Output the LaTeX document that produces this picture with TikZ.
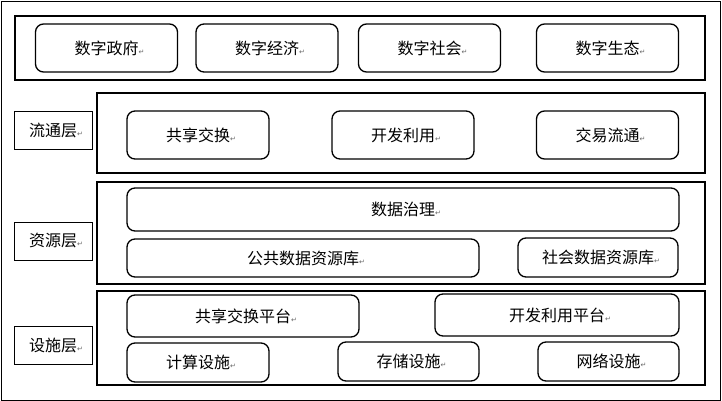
\documentclass[tikz,border=0pt]{standalone}
\usepackage{fontspec}
\newfontfamily\zhfont{Noto Sans CJK SC}
\newfontfamily\markfont{DejaVu Sans}
\usepackage{xcolor}
\colorlet{cMark}{black!60}
\usepackage{tikz}
\usetikzlibrary{positioning}
\newcommand{\parmark}{\rlap{\markfont\fontsize{7}{7}\selectfont\textcolor{cMark}{↵}}}
\tikzset{
	x = 1pt,
	y = -1pt,
	font = \zhfont\fontsize{16}{16}\selectfont,
	frame/.style={
		draw,
		line width=2.6pt,
		inner sep=0pt,
		minimum width=608pt
	},
	cell/.style={
		draw,
		rounded corners=8pt,
		line width=1.3pt,
		inner sep=0pt,
		minimum width=142pt,
		minimum height=39pt
	},
	tag/.style={
		draw,
		line width=.8pt,
		inner sep=0pt,
		minimum width=78pt,
		minimum height=38pt
	}
}

\begin{document}
\begin{tikzpicture}
		\useasboundingbox (0,0) rectangle (722,401);
		\draw[line width=.8pt] (1,1) rectangle (720,400);

		% application
		\node[frame, minimum width=690pt, minimum height=64pt] (app) at (360,48) {};
		\node[cell, minimum height=48pt] (gov) at (106.5,48) {数字政府\parmark};
		\node[cell, minimum height=48pt] (econ) at (267,48) {数字经济\parmark};
		\node[cell, minimum height=48pt] (soc) at (429.5,48) {数字社会\parmark};
		\node[cell, minimum height=48pt] (eco) at (607.5,48) {数字生态\parmark};

		% circulation
		\node[tag] (flow) at (53,130.5) {流通层\parmark};
		\node[frame, minimum height=80pt] (flowbox) at (401,133) {};
		\node[cell, minimum height=48pt] (share) at (198,135) {共享交换\parmark};
		\node[cell, minimum height=48pt] (use) at (403,135) {开发利用\parmark};
		\node[cell, minimum height=48pt] (trade) at (607.5,135) {交易流通\parmark};

		% resources
		\node[tag] (res) at (53,241) {资源层\parmark};
		\node[frame, minimum height=102pt] (resbox) at (401,233) {};
		\node[cell, minimum width=552pt, minimum height=43pt] (govern) at (403,209.5) {数据治理\parmark};
		\node[cell, minimum width=352pt, minimum height=38pt] (pubdb) at (303,258) {公共数据资源库\parmark};
		\node[cell, minimum width=160pt] (socdb) at (598,257.5) {社会数据资源库\parmark};

		% infrastructure
		\node[tag] (infra) at (53,345) {设施层\parmark};
		\node[frame, minimum height=94pt] (infrabox) at (401,338) {};
		\node[cell, minimum width=232pt, minimum height=42pt] (xplat) at (243,316) {共享交换平台\parmark};
		\node[cell, minimum width=244pt, minimum height=42pt] (dplat) at (557,315) {开发利用平台\parmark};
		\node[cell] (comp) at (198,362.5) {计算设施\parmark};
		\node[cell, minimum width=141pt] (store) at (408.5,361.5) {存储设施\parmark};
		\node[cell, minimum width=141pt] (net) at (608.5,361.5) {网络设施\parmark};
	\end{tikzpicture}
\end{document}
